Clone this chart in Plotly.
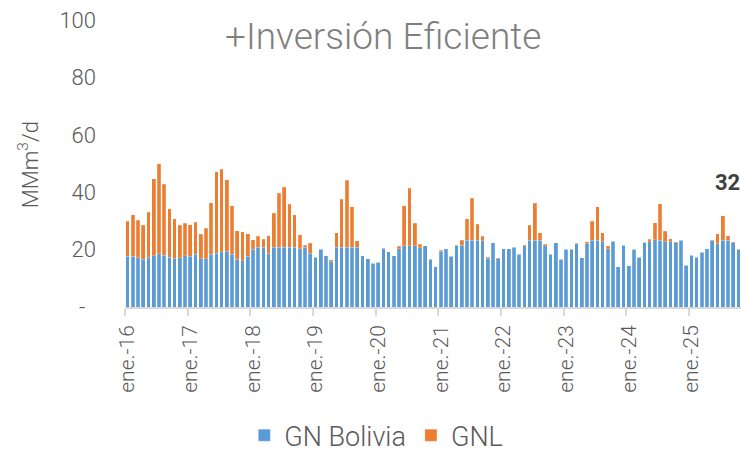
import plotly.graph_objects as go

# Monthly data, ene.-2016 .. oct.-2025 (MMm3/d)
gn_bolivia = [
    17.6, 17.6, 17.2, 16.6, 17.4, 17.9, 18.6, 18.0, 17.3, 16.9, 17.2, 17.8,
    17.6, 18.3, 16.9, 16.9, 18.3, 18.8, 19.3, 19.4, 18.3, 16.6, 16.2, 17.6,
    20.1, 20.8, 20.8, 18.7, 20.8, 20.8, 20.8, 20.8, 20.8, 20.3, 20.8, 18.7,
    17.4, 20.1, 17.8, 15.9, 20.8, 20.8, 20.8, 20.8, 20.8, 17.9, 16.9, 15.2,
    15.6, 20.5, 19.3, 17.8, 20.3, 21.4, 21.4, 21.4, 20.6, 21.4, 16.6, 14.1,
    19.5, 20.3, 17.6, 21.3, 21.6, 23.3, 23.3, 23.3, 23.1, 17.0, 22.4, 16.9,
    20.3, 20.3, 20.8, 18.4, 21.4, 23.3, 23.3, 23.3, 21.3, 18.3, 22.4, 16.6,
    20.1, 20.1, 22.2, 17.1, 22.1, 23.3, 23.3, 22.8, 20.3, 22.9, 14.1, 21.5,
    14.4, 20.1, 17.4, 22.6, 22.7, 23.4, 23.3, 22.8, 22.7, 22.4, 23.3, 14.5,
    18.0, 17.4, 19.1, 20.3, 23.1, 22.1, 23.3, 23.3, 22.4, 20.1,
]
gnl = [
    12.2, 14.6, 13.0, 11.8, 15.7, 26.8, 31.4, 24.8, 17.0, 13.8, 11.3, 11.3,
    11.1, 11.2, 8.4, 10.5, 18.0, 28.3, 28.7, 24.9, 17.0, 10.0, 10.1, 7.9,
    3.4, 3.9, 2.8, 6.2, 11.9, 18.9, 20.9, 15.0, 11.3, 4.8, 0.8, 3.5,
    0.0, 0.0, 0.0, 0.5, 5.1, 16.8, 23.3, 14.2, 2.3, 0.0, 0.0, 0.0,
    0.0, 0.0, 0.0, 0.0, 0.9, 13.9, 20.0, 7.7, 1.3, 0.0, 0.0, 0.0,
    0.3, 0.0, 0.0, 0.3, 1.7, 7.5, 14.6, 5.5, 1.6, 0.3, 0.0, 0.2,
    0.0, 0.0, 0.0, 0.0, 0.3, 5.2, 12.9, 2.5, 0.6, 0.0, 0.0, 0.0,
    0.0, 0.0, 0.0, 0.0, 0.6, 6.6, 11.6, 3.1, 1.0, 0.0, 0.0, 0.0,
    0.0, 0.0, 0.0, 0.0, 0.9, 6.0, 12.7, 3.6, 1.1, 0.3, 0.0, 0.0,
    0.0, 0.0, 0.0, 0.0, 0.2, 3.4, 8.5, 1.5, 0.3, 0.0,
]
months = list(range(len(gn_bolivia)))  # month index from ene.-16

year_tick_labels = ["ene.-16", "ene.-17", "ene.-18", "ene.-19", "ene.-20",
                    "ene.-21", "ene.-22", "ene.-23", "ene.-24", "ene.-25"]
year_tick_pos = [12 * i for i in range(len(year_tick_labels))]
year_boundaries = [p - 0.5 for p in year_tick_pos]

y_tick_vals = [0, 20, 40, 60, 80, 100]
y_tick_text = ["-\u00a0\u00a0", "20", "40", "60", "80", "100"]

peak_label = "32"
peak_month = 115
peak_label_y = 43.5

FONT = "Roboto"
GRAY = "#595959"

fig = go.Figure()
fig.add_trace(go.Bar(x=months, y=gn_bolivia, name="GN Bolivia",
                     marker=dict(color="#5B9BD5",
                                 line=dict(color="rgba(255,255,255,0.35)", width=0.6))))
fig.add_trace(go.Bar(x=months, y=gnl, name="GNL",
                     marker=dict(color="#ED7D31",
                                 line=dict(color="rgba(255,255,255,0.35)", width=0.6))))

fig.update_layout(
    barmode="stack",
    bargap=0.3,
    width=741, height=451,
    margin=dict(l=125, r=0, t=20, b=144, autoexpand=False),
    paper_bgcolor="white", plot_bgcolor="white",
    font=dict(family=FONT, color=GRAY, weight=300),
    showlegend=True,
    legend=dict(orientation="h", x=0.408, xanchor="center", y=-0.448, yanchor="middle",
                font=dict(size=27, color=GRAY, weight=300), traceorder="normal",
                itemwidth=30),
    annotations=[
        dict(text="+Inversión Eficiente", xref="paper", yref="paper",
             x=0.419, y=0.942, xanchor="center", yanchor="middle", showarrow=False,
             font=dict(size=37, color="#7F7F7F", family=FONT, weight=300)),
        dict(text="MMm<sup>3</sup>/d", xref="paper", yref="paper",
             x=-0.157, y=0.495, xanchor="center", yanchor="middle",
             showarrow=False, textangle=-90,
             font=dict(size=22, color=GRAY, family=FONT, weight=300)),
        dict(text="<b>" + peak_label + "</b>", x=peak_month, y=peak_label_y,
             xref="x", yref="y", xanchor="center", yanchor="middle", showarrow=False,
             font=dict(size=22, color="#404040", family=FONT)),
    ],
)

fig.update_xaxes(
    range=[-0.5, 117.5], automargin=False,
    tickmode="array", tickvals=year_tick_pos, ticktext=year_tick_labels,
    tickangle=-90, ticks="", ticklabelstandoff=8,
    tickfont=dict(size=21, color=GRAY, family=FONT, weight=300),
    showline=True, linecolor="#D9D9D9", linewidth=1.5,
    showgrid=False, zeroline=False,
    minor=dict(tickmode="array", tickvals=year_boundaries, ticks="outside",
               ticklen=7, tickwidth=1.5, tickcolor="#D9D9D9", showgrid=False),
)
fig.update_yaxes(
    range=[0, 100], automargin=False,
    tickmode="array", tickvals=y_tick_vals, ticktext=y_tick_text,
    ticks="", ticklabelstandoff=28,
    tickfont=dict(size=22, color=GRAY, family=FONT, weight=300),
    showline=False, showgrid=False, zeroline=False,
)

fig.write_html(
    "out.html",
    config={"displayModeBar": False},
    post_script="document.body.style.margin='0';document.body.style.overflow='hidden';",
)
